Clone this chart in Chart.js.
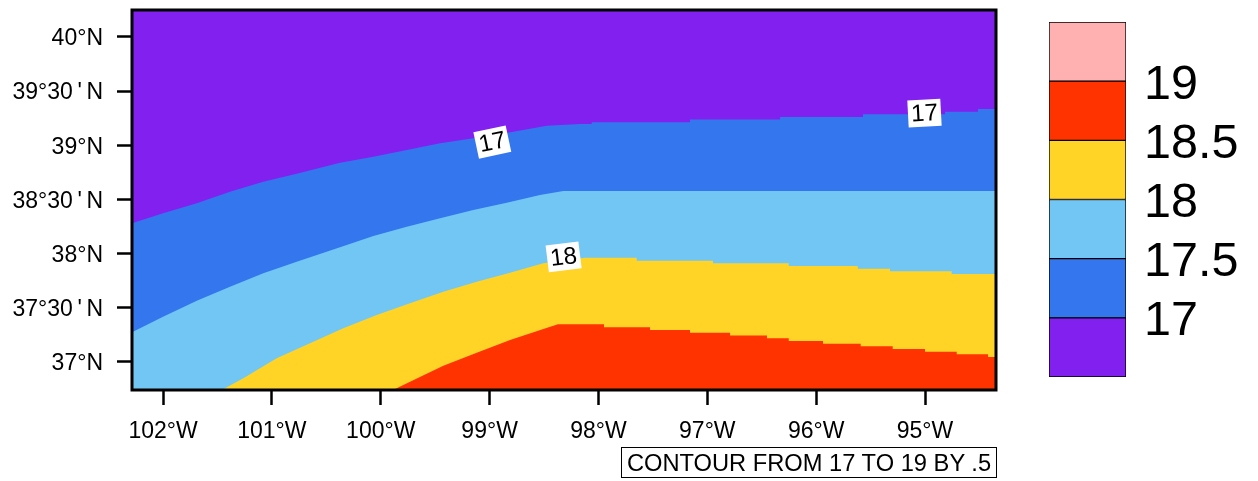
<!DOCTYPE html>
<html>
<head>
<meta charset="utf-8">
<script src="https://cdn.jsdelivr.net/npm/chart.js@4/dist/chart.umd.min.js"></script>
<style>
  html, body { margin: 0; background: #fff; }
  canvas { position: absolute; top: 0; }
  #mapChart { left: 0; }
  #barChart { left: 1040px; }
  #contourInfo {
    position: absolute; left: 621px; top: 447px; width: 374px; height: 29px;
    border: 1px solid #000; font: 23.7px "Liberation Sans", sans-serif; line-height: 31px;
    text-align: center; white-space: nowrap; color: #000;
  }
</style>
</head>
<body>
<canvas id="mapChart" width="1258" height="481"></canvas>
<canvas id="barChart" width="218" height="481"></canvas>
<div id="contourInfo">CONTOUR FROM 17 TO 19 BY .5</div>
<script>
// axis limits and ticks
const lonMin = -102.285, lonMax = -94.348;
const latMin = 36.741, latMax = 40.249;
const lonTicks = [-102, -101, -100, -99, -98, -97, -96, -95];
const lonTickLabels = ['102°W', '101°W', '100°W', '99°W', '98°W', '97°W', '96°W', '95°W'];
const latTicks = [37, 37.5, 38, 38.5, 39, 39.5, 40];
const latTickLabels = ['37°N', "37°30\u2009'\u2009N", '38°N', "38°30\u2009'\u2009N", '39°N', "39°30\u2009'\u2009N", '40°N'];

// contour boundaries
const lons17 = [-102.285, -102, -101.69, -101.385, -101.079, -100.772, -100.374, -100.068, -99.761, -99.455, -99.15, -98.782, -98.475, -98.169, -98.062, -98.062, -97.159, -97.159, -96.332, -96.332, -95.57, -95.57, -94.816, -94.816, -94.513, -94.513, -94.348];
const lats17 = [38.28, 38.373, 38.465, 38.572, 38.664, 38.738, 38.84, 38.895, 38.957, 39.019, 39.065, 39.126, 39.181, 39.197, 39.197, 39.213, 39.213, 39.237, 39.237, 39.262, 39.262, 39.286, 39.286, 39.31, 39.31, 39.335, 39.335];

const lons175 = [-102.285, -102, -101.69, -101.385, -101.079, -100.772, -100.374, -100.068, -99.761, -99.455, -99.15, -98.843, -98.537, -98.323, -94.348];
const lats175 = [37.274, 37.418, 37.566, 37.695, 37.819, 37.926, 38.059, 38.163, 38.249, 38.326, 38.403, 38.47, 38.541, 38.578, 38.578];

const lons18 = [-101.461, -101.262, -100.956, -100.65, -100.344, -100.037, -99.731, -99.425, -99.118, -98.812, -98.506, -98.123, -97.649, -97.649, -96.948, -96.948, -96.252, -96.252, -95.618, -95.618, -95.322, -95.322, -94.755, -94.755, -94.348];
const lats18 = [36.741, 36.849, 37.034, 37.173, 37.311, 37.434, 37.542, 37.649, 37.741, 37.824, 37.911, 37.963, 37.963, 37.935, 37.935, 37.911, 37.911, 37.886, 37.886, 37.861, 37.861, 37.837, 37.837, 37.812, 37.812];

const lons185 = [-99.887, -99.731, -99.425, -99.118, -98.812, -98.506, -98.372, -97.949, -97.949, -97.526, -97.526, -97.159, -97.159, -96.791, -96.791, -96.452, -96.452, -96.252, -96.252, -95.937, -95.937, -95.591, -95.591, -95.297, -95.297, -95, -95, -94.709, -94.709, -94.421, -94.421, -94.348];
const lats185 = [36.741, 36.818, 36.965, 37.085, 37.203, 37.305, 37.348, 37.348, 37.32, 37.32, 37.295, 37.295, 37.27, 37.27, 37.243, 37.243, 37.219, 37.219, 37.194, 37.194, 37.169, 37.169, 37.145, 37.145, 37.12, 37.12, 37.095, 37.095, 37.071, 37.071, 37.046, 37.046];

const lonsTop = [lonMin, lonMax];
const latsTop = [latMax, latMax];

// labels sitting on the contours
const contourTexts = ['17', '17', '18'];
const contourLons = [-98.975, -95.005, -98.32];
const contourLats = [39.03, 39.297, 37.97];
const contourAngles = [-12, -3, -7];

// colour bar
const levels = [17, 17.5, 18, 18.5, 19];
const levelLabels = ['17', '17.5', '18', '18.5', '19'];
const barRanges = [[16.5, 17], [17, 17.5], [17.5, 18], [18, 18.5], [18.5, 19], [19, 19.5]];
const barColors = ['#8220F0', '#3376EE', '#72C6F4', '#FFD426', '#FF3300', '#FFB0B0'];

const toPoints = (xs, ys) => xs.map((x, i) => ({ x: x, y: ys[i] }));

// first dataset ends up on top, so the highest contour goes first
const band = (xs, ys, color) => ({
  data: toPoints(xs, ys),
  backgroundColor: color,
  borderWidth: 0,
  pointRadius: 0,
  tension: 0,
  fill: 'start',
});

const axisFont = { family: '"Liberation Sans", sans-serif', size: 23 };

const frameAndLabels = {
  id: 'frameAndLabels',
  afterDatasetsDraw(chart) {
    const c = chart.ctx;
    const a = chart.chartArea;
    c.save();

    contourTexts.forEach((text, i) => {
      c.save();
      c.translate(chart.scales.x.getPixelForValue(contourLons[i]), chart.scales.y.getPixelForValue(contourLats[i]));
      c.rotate(contourAngles[i] * Math.PI / 180);
      c.fillStyle = '#fff';
      c.fillRect(-16.5, -13.5, 33, 27);
      c.fillStyle = '#000';
      c.font = '24px "Liberation Sans", sans-serif';
      c.textAlign = 'center';
      c.textBaseline = 'middle';
      c.fillText(text, 0, 1);
      c.restore();
    });

    c.strokeStyle = '#000';
    c.lineWidth = 3;
    c.strokeRect(a.left, a.top, a.right - a.left, a.bottom - a.top);
    c.restore();
  },
};

// chart.js reserves room for half a tick label past the ends, not wanted here
const fitY = width => scale => {
  scale.width = width;
  scale.paddingTop = 0;
  scale.paddingBottom = 0;
};

new Chart(document.getElementById('mapChart'), {
  type: 'line',
  data: {
    datasets: [
      band(lons185, lats185, barColors[4]),
      band(lons18, lats18, barColors[3]),
      band(lons175, lats175, barColors[2]),
      band(lons17, lats17, barColors[1]),
      band(lonsTop, latsTop, barColors[0]),
    ],
  },
  options: {
    responsive: false,
    animation: false,
    layout: { padding: { top: 10, right: 262, left: 0, bottom: 0 } },
    plugins: { legend: { display: false }, tooltip: { enabled: false } },
    scales: {
      x: {
        type: 'linear',
        min: lonMin,
        max: lonMax,
        afterBuildTicks: scale => { scale.ticks = lonTicks.map(v => ({ value: v })); },
        afterFit: scale => { scale.height = 91; scale.paddingLeft = 0; scale.paddingRight = 0; },
        border: { display: false },
        grid: { drawOnChartArea: false, tickLength: 15, tickColor: '#000', tickWidth: 2.5 },
        ticks: {
          autoSkip: false, maxRotation: 0, color: '#000', font: axisFont, padding: 13,
          callback: v => lonTickLabels[lonTicks.indexOf(v)],
        },
      },
      y: {
        type: 'linear',
        min: latMin,
        max: latMax,
        afterBuildTicks: scale => { scale.ticks = latTicks.map(v => ({ value: v })); },
        afterFit: fitY(132),
        border: { display: false },
        grid: { drawOnChartArea: false, tickLength: 15, tickColor: '#000', tickWidth: 2.5 },
        ticks: {
          autoSkip: false, color: '#000', font: axisFont, padding: 14, labelOffset: 2,
          callback: v => latTickLabels[latTicks.indexOf(v)],
        },
      },
    },
  },
  plugins: [frameAndLabels],
});

// colour bar on the right
new Chart(document.getElementById('barChart'), {
  type: 'bar',
  data: {
    labels: [''],
    datasets: barRanges.map((r, i) => ({
      data: [r],
      backgroundColor: barColors[i],
      borderColor: '#000',
      borderWidth: 1,
      borderSkipped: false,
      grouped: false,
      barPercentage: 1,
      categoryPercentage: 1,
    })),
  },
  options: {
    responsive: false,
    animation: false,
    layout: { padding: { top: 22, left: 9, right: 0, bottom: 104 } },
    plugins: { legend: { display: false }, tooltip: { enabled: false } },
    scales: {
      x: { display: false },
      y: {
        position: 'right',
        min: 16.5,
        max: 19.5,
        afterBuildTicks: scale => { scale.ticks = levels.map(v => ({ value: v })); },
        afterFit: fitY(132),
        border: { display: false },
        grid: { display: false },
        ticks: {
          autoSkip: false, color: '#000', padding: 10, labelOffset: 4,
          font: { family: '"Liberation Sans", sans-serif', size: 48.5 },
          callback: v => levelLabels[levels.indexOf(v)],
        },
      },
    },
  },
});
</script>
</body>
</html>
